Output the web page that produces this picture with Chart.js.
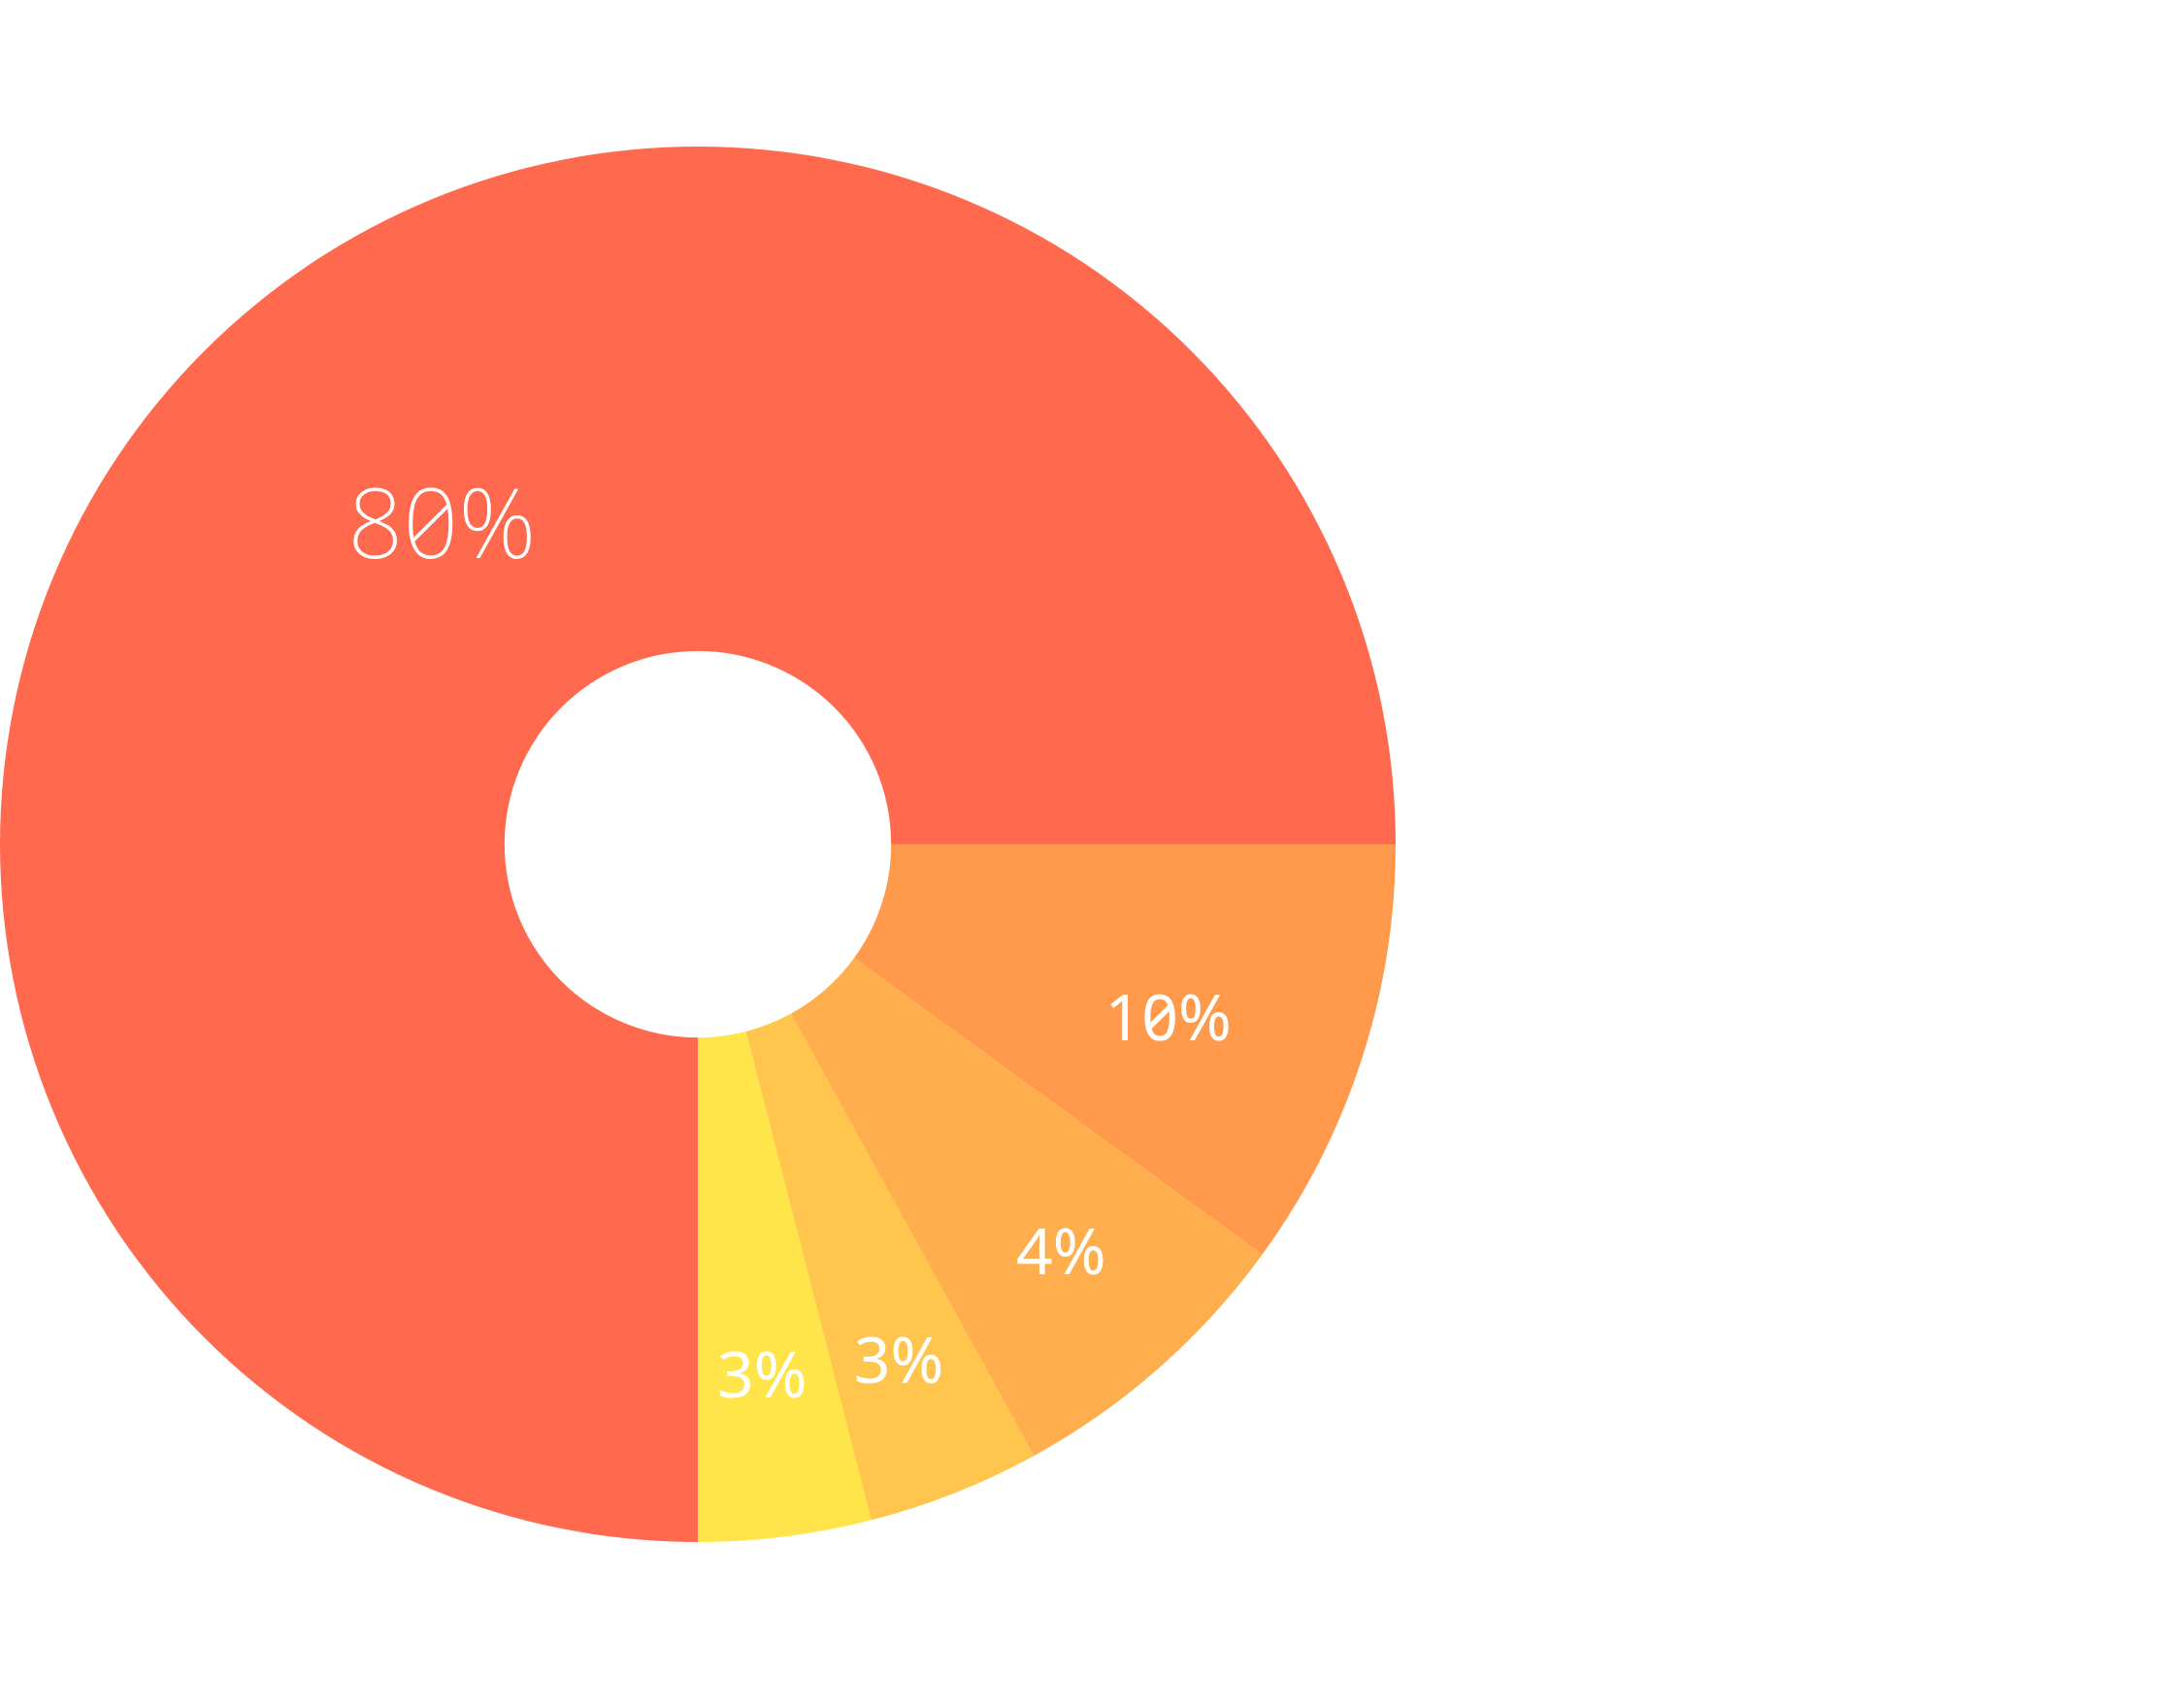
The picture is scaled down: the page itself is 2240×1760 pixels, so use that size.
<!DOCTYPE html>
<html>
<head>
<meta charset="utf-8">
<script src="https://cdn.jsdelivr.net/npm/chart.js@4.4.1/dist/chart.umd.min.js"></script>
<style>
    html, body { margin: 0; padding: 0; background: #ffffff; }
    body { width: 2240px; height: 1760px; position: relative; overflow: hidden; }
    #contenedor { position: absolute; left: 0; top: 151px; width: 1438px; height: 1438px; }
    .etiqueta {
        position: absolute;
        color: #ffffff;
        font-family: "Noto Sans", "Open Sans", sans-serif;
        font-feature-settings: "zero" 1, "tnum" 1;
        line-height: 1;
        white-space: nowrap;
        transform: translate(-50%, -53%);
    }
</style>
</head>
<body>
<div id="contenedor">
    <canvas id="myChart"></canvas>
</div>
<script>
// datos
var categorias = ['A', 'B', 'C', 'D', 'E'];
var valores = [75, 10, 7, 4, 4];
var etiquetas = ['80%', '10%', '4%', '3%', '3%'];
var colores = ['#FF694D', '#FF9A4D', '#FFAE4D', '#FFC54D', '#FFE44A'];

// donde va cada etiqueta: fraccion del radio exterior y fraccion del angulo del sector
var radioEtiquetas = [0.589, 0.718, 0.781, 0.792, 0.765];
var anguloEtiquetas = [0.524, 0.56, 0.484, 0.52, 0.52];

const contenedor = document.querySelector('#contenedor');

// etiquetas en html para poder usar el cero cruzado
const pluginEtiquetas = {
    id: 'etiquetas',
    afterDraw(chart) {
        contenedor.querySelectorAll('.etiqueta').forEach(e => e.remove());
        const meta = chart.getDatasetMeta(0);
        meta.data.forEach(function (arco, i) {
            const p = arco.getProps(['x', 'y', 'startAngle', 'endAngle', 'outerRadius'], true);
            const grande = valores[i] > 50;
            const ang = p.startAngle + (p.endAngle - p.startAngle) * anguloEtiquetas[i];
            const r = p.outerRadius * radioEtiquetas[i];
            const div = document.createElement('div');
            div.className = 'etiqueta';
            div.textContent = etiquetas[i];
            div.style.fontSize = grande ? '100px' : '66px';
            div.style.fontWeight = grande ? '200' : '400';
            div.style.left = (p.x + Math.cos(ang) * r) + 'px';
            div.style.top = (p.y + Math.sin(ang) * r) + 'px';
            contenedor.appendChild(div);
        });
    }
};

var ctx = document.getElementById('myChart').getContext('2d');
let myChart = new Chart(ctx, {
    type: 'doughnut',
    data: {
        labels: categorias,
        datasets: [{
            data: valores,
            backgroundColor: colores,
            borderWidth: 0,
            hoverOffset: 0
        }]
    },
    options: {
        responsive: true,
        maintainAspectRatio: false,
        animation: false,
        devicePixelRatio: 2,
        rotation: 180,
        cutout: '27.7%',
        layout: { padding: 0 },
        plugins: {
            legend: { display: false },
            tooltip: { enabled: false }
        }
    },
    plugins: [pluginEtiquetas]
});
</script>
</body>
</html>
